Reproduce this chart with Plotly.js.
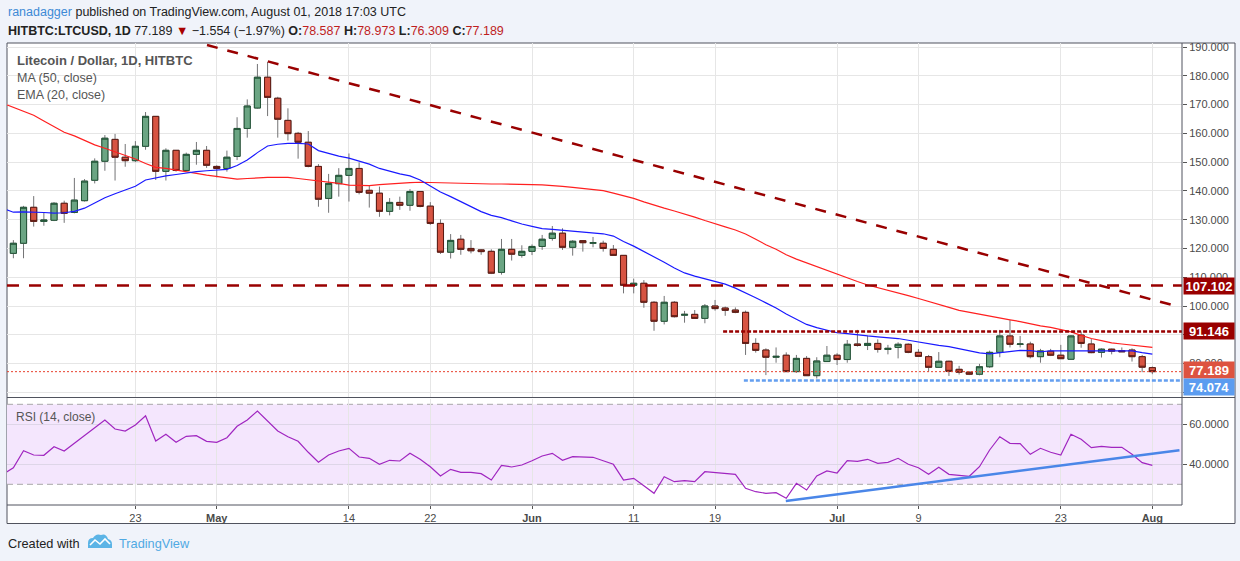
<!DOCTYPE html>
<html>
<head>
<meta charset="utf-8">
<script src="https://cdn.plot.ly/plotly-3.0.1.min.js"></script>
<style>
  html, body { margin: 0; padding: 0; background: #f0f3fa; }
  #chart { width: 1240px; height: 561px; }
</style>
</head>
<body>
<div id="chart"></div>
<script>
// daily candles, 2018-04-11 .. 2018-08-01 (HITBTC LTCUSD)
const open = [118.3, 121.8, 134.3, 129.4, 129.8, 135.7, 132.5, 136.6, 143.7, 150.3,
  157.9, 151.7, 150.5, 155.5, 165.9, 146.8, 154.1, 147.1, 152.7, 154.1,
  148.5, 147.8, 152.0, 161.7, 168.8, 179.5, 172.2, 164.5, 160.0, 156.9,
  148.5, 137.4, 142.5, 145.4, 147.8, 140.2, 139.2, 132.9, 136.0, 135.0,
  139.8, 134.7, 128.7, 118.7, 123.2, 120.0, 119.5, 119.0, 111.7, 119.7,
  117.6, 119.0, 120.7, 123.5, 125.3, 120.4, 122.7, 121.8, 121.8, 119.7,
  117.6, 107.2, 107.9, 101.3, 94.7, 101.3, 96.8, 97.1, 95.7, 100.0,
  99.3, 98.6, 97.8, 87.0, 84.7, 82.2, 82.9, 77.2, 81.8, 75.8,
  80.7, 82.9, 81.4, 86.8, 86.3, 87.0, 84.9, 85.6, 86.7, 83.9,
  82.4, 78.7, 80.8, 78.0, 77.0, 76.3, 78.9, 83.9, 89.6, 86.7,
  86.8, 82.4, 84.3, 82.9, 81.5, 89.9, 86.8, 83.9, 85.0, 84.5,
  84.7, 82.4, 78.587];
const high = [122.9, 134.8, 138.2, 132.4, 136.1, 136.6, 144.5, 144.1, 151.3, 159.4,
  159.8, 156.3, 157.3, 167.4, 166.0, 154.8, 154.1, 153.3, 157.0, 155.6,
  148.9, 154.0, 165.6, 171.8, 184.1, 184.8, 172.7, 168.7, 160.5, 160.8,
  149.3, 145.9, 147.9, 153.0, 149.9, 141.9, 141.5, 137.5, 138.0, 140.6,
  139.8, 136.1, 130.1, 125.0, 124.7, 122.9, 119.7, 119.7, 123.3, 123.3,
  121.1, 121.4, 124.7, 127.8, 127.0, 122.9, 122.9, 124.0, 122.7, 121.2,
  117.6, 109.5, 109.0, 101.7, 103.5, 101.7, 98.3, 98.6, 100.7, 102.1,
  99.8, 99.5, 98.4, 88.8, 85.3, 85.6, 83.9, 83.0, 82.6, 82.2,
  86.1, 83.6, 88.2, 91.7, 89.7, 88.4, 86.5, 87.4, 87.0, 85.0,
  83.0, 84.0, 81.0, 79.2, 77.2, 79.9, 84.5, 91.7, 95.1, 89.6,
  87.6, 85.1, 85.1, 86.5, 89.9, 91.1, 88.5, 85.3, 85.2, 85.6,
  85.3, 83.0, 78.973];
const low = [116.6, 116.6, 127.6, 127.9, 129.5, 128.9, 132.2, 136.3, 142.6, 147.0,
  143.6, 148.4, 150.0, 154.3, 143.8, 143.6, 146.7, 146.9, 149.1, 148.0,
  144.7, 146.7, 150.7, 158.5, 168.6, 166.0, 158.5, 157.5, 151.2, 148.2,
  134.5, 132.4, 138.0, 136.3, 138.8, 134.2, 131.0, 131.5, 133.4, 133.1,
  134.3, 128.2, 118.1, 116.5, 117.8, 118.3, 117.8, 111.1, 110.9, 115.8,
  116.8, 117.7, 119.5, 122.7, 119.5, 117.5, 118.9, 120.4, 118.9, 117.6,
  104.4, 104.4, 99.4, 91.4, 93.6, 96.0, 94.2, 95.7, 94.0, 98.4,
  96.6, 97.5, 83.0, 83.8, 76.0, 80.3, 77.2, 76.8, 75.8, 74.8,
  80.7, 79.5, 80.3, 85.9, 84.7, 83.8, 83.2, 81.8, 83.6, 82.4,
  77.2, 78.7, 75.7, 76.2, 76.0, 75.9, 78.5, 82.2, 85.6, 85.6,
  81.8, 80.3, 82.6, 81.7, 81.5, 85.5, 83.6, 82.1, 83.2, 84.1,
  80.7, 77.0, 76.309];
const close = [121.8, 134.3, 129.4, 129.9, 135.7, 132.2, 136.8, 143.4, 150.3, 158.3,
  151.7, 150.5, 155.5, 165.9, 146.8, 154.1, 147.1, 152.7, 154.1, 148.9,
  147.8, 151.7, 161.7, 169.5, 179.5, 172.5, 164.9, 159.9, 156.9, 148.5,
  137.1, 142.6, 145.4, 147.8, 139.5, 139.2, 132.9, 136.0, 135.0, 139.8,
  134.6, 128.7, 118.7, 122.8, 119.7, 119.2, 118.9, 111.4, 119.7, 118.0,
  119.0, 120.7, 123.2, 125.3, 120.4, 122.5, 122.0, 122.0, 120.0, 117.6,
  107.2, 107.9, 101.3, 94.7, 101.3, 96.3, 97.1, 95.7, 100.0, 99.1,
  98.5, 97.8, 87.0, 84.6, 82.2, 82.5, 77.2, 81.8, 75.8, 80.9,
  82.9, 81.4, 86.7, 86.3, 87.0, 84.9, 85.3, 86.7, 83.9, 82.5,
  78.7, 80.8, 77.3, 77.0, 76.3, 78.9, 83.9, 89.6, 86.7, 86.8,
  82.4, 84.4, 82.9, 81.7, 89.6, 87.0, 83.8, 85.0, 84.3, 84.1,
  82.4, 78.743, 77.189];

// indicator values, 2018-04-10 .. 2018-08-01 (first point sits left of the frame)
const ma50 = [170.4,
  169.0, 167.7, 166.3, 164.3, 162.2, 160.4, 159.1, 157.6, 156.0, 154.8,
  153.6, 152.4, 151.1, 149.5, 148.2, 147.8, 147.3, 146.7, 146.1, 145.5,
  145.0, 144.4, 144.1, 144.3, 144.6, 144.7, 144.7, 144.7, 144.3, 143.9,
  143.5, 143.1, 142.6, 142.0, 141.8, 141.8, 142.2, 142.5, 142.7, 142.9,
  143.0, 142.9, 142.8, 142.6, 142.6, 142.5, 142.4, 142.4, 142.4, 142.4,
  142.4, 142.2, 142.1, 141.9, 141.6, 141.2, 140.8, 140.5, 140.1, 139.2,
  138.3, 137.4, 136.2, 135.0, 134.0, 133.0, 132.0, 130.9, 129.7, 128.5,
  127.5, 126.4, 125.0, 123.2, 121.3, 119.7, 117.8, 116.3, 115.0, 113.7,
  112.2, 110.9, 109.6, 108.5, 107.3, 106.4, 105.5, 104.7, 103.6, 102.6,
  101.5, 100.5, 99.5, 98.5, 97.8, 97.1, 96.5, 95.8, 95.2, 94.6,
  93.8, 93.1, 92.6, 91.8, 91.0, 89.8, 88.7, 88.0, 87.2, 86.8,
  86.4, 86.0, 85.6];
const ema20 = [133.9,
  132.6, 132.7, 132.7, 132.5, 132.3, 132.4, 132.9, 134.0, 135.8, 137.6,
  139.0, 140.2, 141.6, 143.8, 144.6, 145.2, 145.7, 146.3, 146.7, 147.0,
  147.3, 147.5, 148.8, 150.7, 153.3, 155.6, 156.2, 156.5, 156.5, 156.3,
  154.0, 153.0, 152.1, 151.4, 150.4, 149.3, 147.8, 146.8, 145.9, 145.2,
  143.8, 141.7, 139.6, 138.0, 136.2, 134.5, 132.8, 131.5, 130.7, 129.6,
  128.5, 127.7, 126.9, 126.6, 126.3, 126.0, 125.7, 125.5, 125.1, 124.3,
  122.4, 120.8, 119.0, 117.0, 115.2, 113.2, 111.5, 110.4, 109.5, 108.6,
  107.6, 106.2, 104.6, 102.9, 101.1, 99.3, 97.2, 95.4, 93.6, 92.5,
  91.6, 90.7, 90.4, 89.9, 89.6, 89.3, 89.0, 88.7, 88.1, 87.5,
  86.8, 86.3, 85.9, 85.2, 84.4, 83.7, 83.4, 83.8, 84.2, 84.6,
  84.5, 84.1, 84.4, 84.4, 84.4, 84.5, 84.5, 84.5, 84.5, 84.4,
  84.4, 83.8, 83.3];
const rsi14 = [35.0,
  38.3, 46.8, 44.65, 44.5, 48.8, 46.65, 50.5, 54.3, 58.3, 62.15,
  57.65, 56.65, 59.65, 64.3, 51.65, 55.0, 51.0, 54.0, 54.3, 51.5,
  51.0, 53.3, 59.0, 62.15, 66.65, 61.65, 56.65, 53.8, 51.5, 46.0,
  41.0, 44.65, 46.65, 48.0, 43.65, 43.0, 40.0, 42.0, 41.65, 45.5,
  42.5, 38.8, 34.15, 37.5, 36.0, 36.0, 35.3, 32.15, 39.5, 38.65,
  39.65, 41.8, 44.15, 45.5, 42.0, 43.8, 43.5, 43.5, 41.8, 40.0,
  32.15, 33.0, 29.3, 25.5, 33.8, 31.3, 31.8, 31.3, 36.3, 35.8,
  35.3, 35.0, 28.0, 26.3, 25.5, 25.8, 23.0, 30.5, 27.15, 34.15,
  36.65, 35.65, 41.8, 41.5, 42.5, 40.5, 41.0, 43.0, 40.0, 38.3,
  35.0, 38.5, 35.0, 34.5, 34.0, 38.8, 47.15, 53.8, 50.5, 50.3,
  45.0, 48.0, 46.0, 44.65, 55.0, 52.5, 48.3, 49.0, 48.5, 48.5,
  45.0, 40.8, 39.5];

// drawn levels and trend lines
const levelValues = [107.102, 91.146, 77.189, 74.074];
const levelStarts = ['2018-04-10 09:00', '2018-06-19 19:00', '2018-04-10 09:00', '2018-06-21 20:00'];
const trendDates = ['2018-04-30 01:00', '2018-08-02 22:00'];
const trendValues = [190.7, 100.4];
const rsiTrendDates = ['2018-06-25 23:00', '2018-08-03 16:00'];
const rsiTrendValues = [21.65, 47.0];

const tickDates = ['2018-04-23', '2018-05-01', '2018-05-14', '2018-05-22', '2018-06-01',
  '2018-06-11', '2018-06-19', '2018-07-01', '2018-07-09', '2018-07-23', '2018-08-01'];
const tickLabels = ['23', '<b>May</b>', '14', '22', '<b>Jun</b>', '11', '19', '<b>Jul</b>', '9', '23', '<b>Aug</b>'];
const priceTicks = [70, 80, 90, 100, 110, 120, 130, 140, 150, 160, 170, 180, 190];
const priceLabels = ['', '80.000', '', '100.000', '110.000', '120.000', '130.000', '140.000',
  '150.000', '160.000', '170.000', '180.000', '190.000'];
const rsiTicks = [40, 60];
const rsiBand = [30, 70];

function dayStr(offset) {
  return new Date(Date.UTC(2018, 3, 11 + offset)).toISOString().slice(0, 10);
}
const dates = open.map((_, i) => dayStr(i));
const lineDates = [dayStr(-1)].concat(dates);
const xStart = '2018-04-10 09:00';
const xEnd = '2018-08-03 22:00';

const bodyTop = open.map((o, i) => Math.max(o, close[i]));
const bodyBottom = open.map((o, i) => Math.min(o, close[i]));

const FONT = 'Liberation Sans, Arial, sans-serif';
const GREEN = '#6ba583', RED = '#d75442';

// pixel -> paper helpers for the frame decorations
const L = 7, R = 58, T = 43, B = 56, W = 1240, H = 561;
const pw = W - L - R, ph = H - T - B;
const px = p => (p - L) / pw;
const py = p => (H - B - p) / ph;

const traces = [
  { // wicks
    type: 'candlestick', x: dates, open: open, high: high, low: low, close: close,
    xaxis: 'x', yaxis: 'y', whiskerwidth: 0, hoverinfo: 'skip',
    increasing: { line: { color: '#737375', width: 1 }, fillcolor: GREEN },
    decreasing: { line: { color: '#737375', width: 1 }, fillcolor: RED }
  },
  { // bodies
    type: 'candlestick', x: dates, open: open, high: bodyTop, low: bodyBottom, close: close,
    xaxis: 'x', yaxis: 'y', whiskerwidth: 0, hoverinfo: 'skip',
    increasing: { line: { color: '#225437', width: 1 }, fillcolor: GREEN },
    decreasing: { line: { color: '#5b1a13', width: 1 }, fillcolor: RED }
  },
  { type: 'scatter', mode: 'lines', x: lineDates, y: ma50, xaxis: 'x', yaxis: 'y',
    line: { color: '#ff2020', width: 1.2 }, hoverinfo: 'skip' },
  { type: 'scatter', mode: 'lines', x: lineDates, y: ema20, xaxis: 'x', yaxis: 'y',
    line: { color: '#1a1aff', width: 1.2 }, hoverinfo: 'skip' },
  { type: 'scatter', mode: 'lines', x: trendDates, y: trendValues, xaxis: 'x', yaxis: 'y',
    line: { color: '#990000', width: 2.5, dash: '11px,10px' }, hoverinfo: 'skip' },
  { type: 'scatter', mode: 'lines', x: lineDates, y: rsi14, xaxis: 'x', yaxis: 'y2',
    line: { color: '#a026c0', width: 1.2 }, hoverinfo: 'skip' },
  { type: 'scatter', mode: 'lines', x: rsiTrendDates, y: rsiTrendValues, xaxis: 'x', yaxis: 'y2',
    line: { color: '#4a86e8', width: 2.5 }, hoverinfo: 'skip' }
];

const levelStyles = [
  { color: '#990000', width: 2.5, dash: '12px,10px' },
  { color: '#990000', width: 2.5, dash: '4px,2px' },
  { color: '#e8422e', width: 1, dash: '2px,2px' },
  { color: '#649ff0', width: 2.5, dash: '4px,2px' }
];

const shapes = [
  // white chart card with frame
  { type: 'rect', xref: 'paper', yref: 'paper', x0: px(7), x1: px(1235), y0: py(523.5), y1: py(43),
    fillcolor: '#ffffff', line: { color: '#50535e', width: 1 }, layer: 'below' },
  // RSI band
  { type: 'rect', xref: 'paper', yref: 'y2', x0: 0, x1: 1, y0: rsiBand[0], y1: rsiBand[1],
    fillcolor: '#f4e6fd', line: { width: 0 }, layer: 'below' }
];
rsiBand.forEach(v => shapes.push({ type: 'line', xref: 'paper', yref: 'y2', x0: 0, x1: 1, y0: v, y1: v,
  line: { color: '#a8a8a8', width: 1, dash: '6px,4px' }, layer: 'below' }));
levelValues.forEach((v, i) => shapes.push({ type: 'line', xref: 'x', yref: 'y',
  x0: levelStarts[i], x1: xEnd, y0: v, y1: v, line: levelStyles[i], layer: 'above' }));
// separators
shapes.push(
  { type: 'line', xref: 'paper', yref: 'paper', x0: 1, x1: 1, y0: 0, y1: 1, line: { color: '#50535e', width: 1 } },
  { type: 'line', xref: 'paper', yref: 'paper', x0: 0, x1: px(1235), y0: py(397.5), y1: py(397.5), line: { color: '#50535e', width: 1 } },
  { type: 'line', xref: 'paper', yref: 'paper', x0: 0, x1: 1, y0: 0, y1: 0, line: { color: '#50535e', width: 1 } }
);
// TradingView logo
const cloud = 'M88,548 L88,543 Q88,538 93,538 Q96,533 101,535 Q106,533 108,539 Q112,540 112,544 L112,548 Z';
const zig = 'M90,545 L95,540 L100,544 L105,539 L110,544';
function toPaper(path) {
  return path.replace(/(-?\d+(?:\.\d+)?),(-?\d+(?:\.\d+)?)/g, (m, a, b) => px(+a) + ',' + py(+b));
}
shapes.push(
  { type: 'path', xref: 'paper', yref: 'paper', path: toPaper(cloud), fillcolor: '#5cb4e6', line: { width: 0 } },
  { type: 'path', xref: 'paper', yref: 'paper', path: toPaper(zig), line: { color: '#ffffff', width: 1.6 } }
);

function note(text, x, y, size, color, extra) {
  return Object.assign({ text: text, xref: 'paper', yref: 'paper', x: px(x), y: py(y),
    xanchor: 'left', yanchor: 'middle', showarrow: false,
    font: { family: FONT, size: size, color: color } }, extra || {});
}
const red = s => '<span style="color:#bf1e1e">' + s + '</span>';
const annotations = [
  note('<span style="color:#3d8ad6">ranadagger</span> published on TradingView.com, August 01, 2018 17:03 UTC', 6, 12, 12.5, '#222222'),
  note('<b>HITBTC:LTCUSD, 1D</b> 77.189 <span style="color:#a80000">▼</span> −1.554 (−1.97%) <b>O:</b>' + red('78.587') +
    ' <b>H:</b>' + red('78.973') + ' <b>L:</b>' + red('76.309') + ' <b>C:</b>' + red('77.189'), 6, 31, 12.5, '#222222'),
  note('<b>Litecoin / Dollar, 1D, HITBTC</b>', 15, 60, 13, '#555555'),
  note('MA (50, close)', 15, 78, 12.5, '#555555'),
  note('EMA (20, close)', 15, 95, 12.5, '#555555'),
  note('RSI (14, close)', 14, 417, 12, '#555555'),
  note('Created with', 6, 543, 12.75, '#222222'),
  note('TradingView', 117, 543, 12.75, '#4fa9e3')
];
const boxColors = ['#990000', '#990000', '#dd5340', '#5b9cf0'];
const boxShift = [0, 0.5, 1.5, -6.5];
levelValues.forEach((v, i) => annotations.push({
  text: '<b>' + v.toFixed(3) + '</b>', xref: 'paper', yref: 'y', x: px(1183), y: v,
  xanchor: 'left', yanchor: 'middle', yshift: boxShift[i], showarrow: false,
  width: 48, height: 14, borderpad: 1, bgcolor: boxColors[i], align: 'center',
  font: { family: FONT, size: 13, color: '#ffffff' }
}));

const tickFont = { family: FONT, size: 11, color: '#4a4a4a' };
const layout = {
  width: W, height: H,
  margin: { l: L, r: R, t: T, b: B, pad: 0 },
  paper_bgcolor: '#f0f3fa', plot_bgcolor: 'rgba(0,0,0,0)',
  showlegend: false, boxgap: 0.4, boxgroupgap: 0, boxmode: 'overlay',
  xaxis: {
    type: 'date', range: [xStart, xEnd], anchor: 'y2', fixedrange: true,
    tickvals: tickDates, ticktext: tickLabels, ticks: 'outside', ticklen: 3, tickcolor: '#555',
    showgrid: true, gridcolor: '#e6e6e6', zeroline: false, showline: false,
    rangeslider: { visible: false }, tickfont: tickFont
  },
  yaxis: {
    domain: [py(397.5), 1], range: [68.21, 191.39], side: 'right', anchor: 'x', fixedrange: true,
    tickvals: priceTicks, ticktext: priceLabels, ticks: 'outside', ticklen: 4, tickcolor: '#555',
    showgrid: true, gridcolor: '#e6e6e6', zeroline: false, tickfont: tickFont
  },
  yaxis2: {
    domain: [0, py(398.5)], range: [19.65, 72.9], side: 'right', anchor: 'x', fixedrange: true,
    tickvals: rsiTicks, tickformat: '.4f', ticks: 'outside', ticklen: 4, tickcolor: '#555',
    showgrid: true, gridcolor: '#ded6e8', zeroline: false, tickfont: tickFont
  },
  shapes: shapes,
  annotations: annotations
};

Plotly.newPlot('chart', traces, layout, { displayModeBar: false, staticPlot: true });
</script>
</body>
</html>
